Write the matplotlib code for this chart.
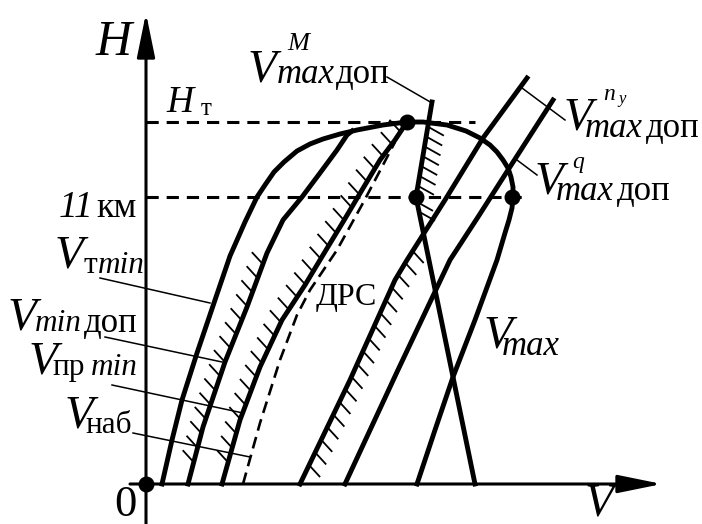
import numpy as np
import matplotlib.pyplot as plt

plt.rcParams['font.family'] = 'Liberation Serif'

# Кривые области полета (V - вправо, H - вверх)
# V_т min + верхняя граница + V_max (одна огибающая)
env_V = [16, 26, 36, 51, 69, 84, 99, 111, 119, 128, 138, 151, 164, 177, 194,
         211, 237, 261, 277, 301, 320, 334, 344, 351, 357, 362, 365, 367, 367,
         366, 363, 359, 351, 329, 307, 289, 271]
env_H = [0, 44, 84, 131, 184, 228, 262, 287, 299, 312, 322, 333, 340, 345, 350,
         354, 359, 362, 362, 359, 353, 346, 339, 332, 324, 316, 307, 297, 287,
         276, 264, 251, 224, 164, 107, 54, 0]

vmin_dop_V = [42, 57, 79, 101, 121, 137, 156, 174, 191, 201, 206]
vmin_dop_H = [0, 57, 122, 177, 231, 264, 287, 311, 334, 349, 353]

vpr_min_V = [76, 94, 114, 136, 159, 177, 197, 216, 234, 249, 261]
vpr_min_H = [0, 64, 117, 164, 199, 229, 262, 294, 324, 344, 362]

drs_V = [97, 114, 134, 151, 164, 191, 217, 237, 249]
drs_H = [0, 61, 124, 169, 194, 234, 281, 319, 342]

# V_max доп по n_y и по q
ny_V = [154, 204, 249, 261, 299, 337, 381]
ny_H = [0, 104, 204, 224, 284, 346, 406]
q_V = [199, 251, 304, 332, 362, 407]
q_H = [0, 112, 224, 267, 314, 384]

# V_max доп по числу М (излом на 11 км)
m_V = [286, 270, 329]
m_H = [382, 287, 0]

H_t = 362
H_11 = 287
H_t_end = 329
H_11_end = 377

# характерные точки
pts_V = [0, 261, 270, 366]
pts_H = [0, 362, 287, 287]

# выноски: (от подписи) -> (к кривой)
leaders = [
    ([241, 286], [407, 381]),
    ([376, 419], [396, 364]),
    ([371, 391], [324, 309]),
    ([-46, 64], [206, 181]),
    ([-41, 76], [147, 122]),
    ([-34, 97], [99, 71]),
    ([-13, 104], [51, 27]),
]

# подписи: (V, H, текст, размер, начертание)
BIG = 34
MIN = 22.5
MAX = 25
DOP = 25
labels = [
    (-50, 429, 'H', 36, 'italic'),
    (-32, -32, '0', 32, 'normal'),
    (439, -32, 'V', BIG, 'italic'),
    (20, 372, 'H', 27, 'italic'),
    (55, 369, 'т', 18, 'normal'),
    (-87, 267, '11', 27, 'italic'),
    (-50, 267, 'км', 26, 'normal'),
    # V_т min
    (-91, 217, 'V', BIG, 'italic'),
    (-62, 211, 'т', MIN, 'normal'),
    (-48, 211, 'min', MIN, 'italic'),
    # V_min доп
    (-138, 154, 'V', BIG, 'italic'),
    (-111, 153, 'min', MIN, 'italic'),
    (-62, 152, 'доп', DOP, 'normal'),
    # V_пр min
    (-117, 111, 'V', BIG, 'italic'),
    (-94, 109, 'пр', MIN, 'normal'),
    (-55, 109, 'min', MIN, 'italic'),
    # V_наб
    (-81, 57, 'V', BIG, 'italic'),
    (-61, 51, 'наб', MIN, 'normal'),
    # V_max доп ^M
    (102, 402, 'V', BIG, 'italic'),
    (131, 401, 'max', MAX, 'italic'),
    (190, 401, 'доп', DOP, 'normal'),
    (141, 434, 'M', 19, 'italic'),
    # V_max доп ^n_y
    (418, 354, 'V', BIG, 'italic'),
    (439, 347, 'max', MAX, 'italic'),
    (500, 347, 'доп', DOP, 'normal'),
    (457, 384, 'n', 17, 'italic'),
    (472, 381, 'y', 12, 'italic'),
    # V_max доп ^q
    (389, 291, 'V', BIG, 'italic'),
    (410, 284, 'max', MAX, 'italic'),
    (471, 284, 'доп', DOP, 'normal'),
    (426, 316, 'q', 17, 'italic'),
    # V_max
    (338, 136, 'V', BIG, 'italic'),
    (356, 129, 'max', MAX, 'italic'),
    # ДРС
    (170, 179, 'ДРС', 23, 'normal'),
]

fig = plt.figure(figsize=(7.02, 5.24), dpi=100)
ax = fig.add_axes([0, 0, 1, 1])
ax.set_xlim(-146, 556)
ax.set_ylim(-40, 484)
ax.axis('off')

LW = 3.5


def hatch(V, H, dv, dh, step, hmin, hmax, lw=1.3):
    V = np.asarray(V, float)
    H = np.asarray(H, float)
    s = np.concatenate([[0], np.cumsum(np.hypot(np.diff(V), np.diff(H)))])
    for si in np.arange(step / 2, s[-1], step):
        v = np.interp(si, s, V)
        h = np.interp(si, s, H)
        if hmin <= h <= hmax:
            ax.plot([v, v + dv], [h, h + dh], color='k', lw=lw,
                    solid_capstyle='butt')


# оси
ax.annotate("", xy=(0, 471), xytext=(0, -40),
            arrowprops=dict(arrowstyle='-|>,head_length=2.7,head_width=0.55',
                            lw=2.2, color='k', mutation_scale=10,
                            shrinkA=0, shrinkB=0))
ax.annotate("", xy=(516, 0), xytext=(-16, 0),
            arrowprops=dict(arrowstyle='-|>,head_length=2.7,head_width=0.55',
                            lw=2.2, color='k', mutation_scale=10,
                            shrinkA=0, shrinkB=0))

# горизонтали H_т и 11 км
ax.plot([0, H_t_end], [H_t, H_t], color='k', lw=2.2, dashes=(4, 2.6))
ax.plot([0, H_11_end], [H_11, H_11], color='k', lw=2.2, dashes=(4, 2.6))

# штриховка
hatch(vmin_dop_V, vmin_dop_H, -11, 12, 15, 8, 222)
hatch(vpr_min_V, vpr_min_H, -11, 12, 15, 8, 365)
hatch(ny_V, ny_H, 11, -12, 14, 14, 234)
hatch(m_V[:2], m_H[:2], 16, -9, 10, 290, 360)
hatch(m_V[1:], m_H[1:], 16, -9, 10, 264, 284)

# кривые
for cv, ch in [(env_V, env_H), (vmin_dop_V, vmin_dop_H), (vpr_min_V, vpr_min_H),
               (ny_V, ny_H), (q_V, q_H), (m_V, m_H)]:
    ax.plot(cv, ch, color='k', lw=LW, solid_joinstyle='round')
ax.plot(drs_V, drs_H, color='k', lw=1.9, dashes=(4.5, 2.5))

ax.scatter(pts_V, pts_H, s=110, color='k', zorder=5)

for lv, lh in leaders:
    ax.plot(lv, lh, color='k', lw=1.1)

for v, h, s, size, style in labels:
    ax.text(v, h, s, fontsize=size, style=style, ha='left', va='baseline')

fig.savefig('out.png', dpi=100)
